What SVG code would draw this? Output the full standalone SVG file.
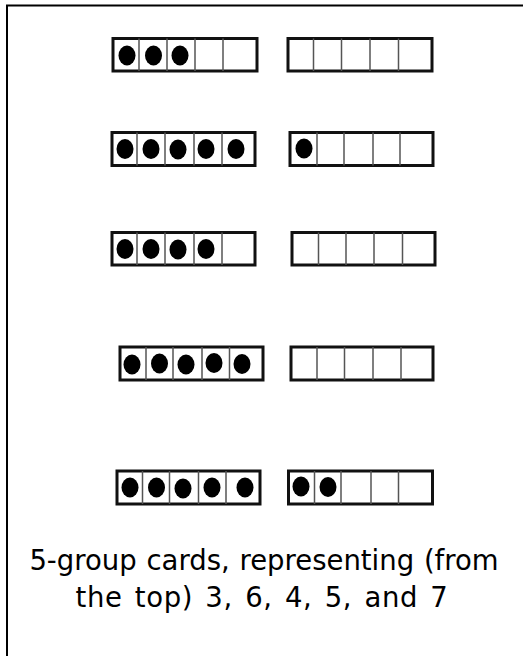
<svg xmlns="http://www.w3.org/2000/svg" width="524" height="656" viewBox="0 0 524 656">
<style>
.bg{fill:#fff}
.border{fill:none;stroke:#000;stroke-width:2}
.card{fill:#fff;stroke:#111;stroke-width:3}
.dv{stroke:#555;stroke-width:1.5}
.dot{fill:#000}
.cap{font-family:"DejaVu Sans",sans-serif;font-size:27.5px;fill:#000;text-anchor:middle}
</style>
<rect class="bg" x="0" y="0" width="524" height="656"/>
<path class="border" d="M7,656 V5.5 H523"/>

<g id="card-1a">
<rect class="card" x="113" y="38.5" width="144" height="32.5"/>
<path class="dv" d="M139,38.5V71M167,38.5V71M195,38.5V71M223,38.5V71"/>
<ellipse class="dot" cx="127" cy="55.5" rx="8.5" ry="10"/>
<ellipse class="dot" cx="153.5" cy="55.5" rx="8.5" ry="10"/>
<ellipse class="dot" cx="180" cy="55.5" rx="8.5" ry="10"/>
</g>
<g id="card-1b">
<rect class="card" x="288" y="38.5" width="144" height="32.5"/>
<path class="dv" d="M313.5,38.5V71M341.5,38.5V71M370,38.5V71M398.5,38.5V71"/>
</g>

<g id="card-2a">
<rect class="card" x="112" y="132.5" width="143" height="33"/>
<path class="dv" d="M137,132.5V165.5M165,132.5V165.5M194,132.5V165.5M222,132.5V165.5"/>
<ellipse class="dot" cx="125" cy="149" rx="8.5" ry="10"/>
<ellipse class="dot" cx="151" cy="149" rx="8.5" ry="10"/>
<ellipse class="dot" cx="178" cy="149.5" rx="8.5" ry="10"/>
<ellipse class="dot" cx="206" cy="149" rx="8.5" ry="10"/>
<ellipse class="dot" cx="236" cy="149" rx="8.5" ry="10"/>
</g>
<g id="card-2b">
<rect class="card" x="290" y="132.5" width="143" height="33"/>
<path class="dv" d="M317,132.5V165.5M344,132.5V165.5M373,132.5V165.5M400,132.5V165.5"/>
<ellipse class="dot" cx="304" cy="148.5" rx="8.5" ry="10"/>
</g>

<g id="card-3a">
<rect class="card" x="112" y="232.5" width="143" height="32.5"/>
<path class="dv" d="M137,232.5V265M165,232.5V265M194,232.5V265M222,232.5V265"/>
<ellipse class="dot" cx="125" cy="249" rx="8.5" ry="10"/>
<ellipse class="dot" cx="151" cy="249" rx="8.5" ry="10"/>
<ellipse class="dot" cx="178" cy="249.5" rx="8.5" ry="10"/>
<ellipse class="dot" cx="206" cy="249" rx="8.5" ry="10"/>
</g>
<g id="card-3b">
<rect class="card" x="292" y="232.5" width="143" height="32.5"/>
<path class="dv" d="M318.5,232.5V265M346,232.5V265M374,232.5V265M402.5,232.5V265"/>
</g>

<g id="card-4a">
<rect class="card" x="120" y="347" width="143" height="33"/>
<path class="dv" d="M146,347V380M173,347V380M202,347V380M229.5,347V380"/>
<ellipse class="dot" cx="132" cy="364.5" rx="8.5" ry="10"/>
<ellipse class="dot" cx="159.5" cy="363.5" rx="8.5" ry="10"/>
<ellipse class="dot" cx="186" cy="364.5" rx="8.5" ry="10"/>
<ellipse class="dot" cx="214" cy="363" rx="8.5" ry="10"/>
<ellipse class="dot" cx="242" cy="364" rx="8.5" ry="10"/>
</g>
<g id="card-4b">
<rect class="card" x="291" y="347" width="142" height="33"/>
<path class="dv" d="M317,347V380M344.5,347V380M373,347V380M401,347V380"/>
</g>

<g id="card-5a">
<rect class="card" x="117" y="471" width="143" height="33"/>
<path class="dv" d="M142.5,471V504M169.5,471V504M198.5,471V504M226,471V504"/>
<ellipse class="dot" cx="130" cy="487.5" rx="8.5" ry="10"/>
<ellipse class="dot" cx="156.5" cy="487.5" rx="8.5" ry="10"/>
<ellipse class="dot" cx="183" cy="488.5" rx="8.5" ry="10"/>
<ellipse class="dot" cx="212" cy="487.5" rx="8.5" ry="10"/>
<ellipse class="dot" cx="245" cy="487.5" rx="8.5" ry="10"/>
</g>
<g id="card-5b">
<rect class="card" x="288.5" y="471" width="144" height="33"/>
<path class="dv" d="M314.5,471V504M341,471V504M371,471V504M398.5,471V504"/>
<ellipse class="dot" cx="301" cy="486.5" rx="8.5" ry="10"/>
<ellipse class="dot" cx="328" cy="487" rx="8.5" ry="10"/>
</g>

<g id="caption">
<text class="cap" x="264" y="570" word-spacing="1">5-group cards, representing (from</text>
<text class="cap" x="262" y="607" word-spacing="3" letter-spacing="0.6">the top) 3, 6, 4, 5, and 7</text>
</g>
</svg>
